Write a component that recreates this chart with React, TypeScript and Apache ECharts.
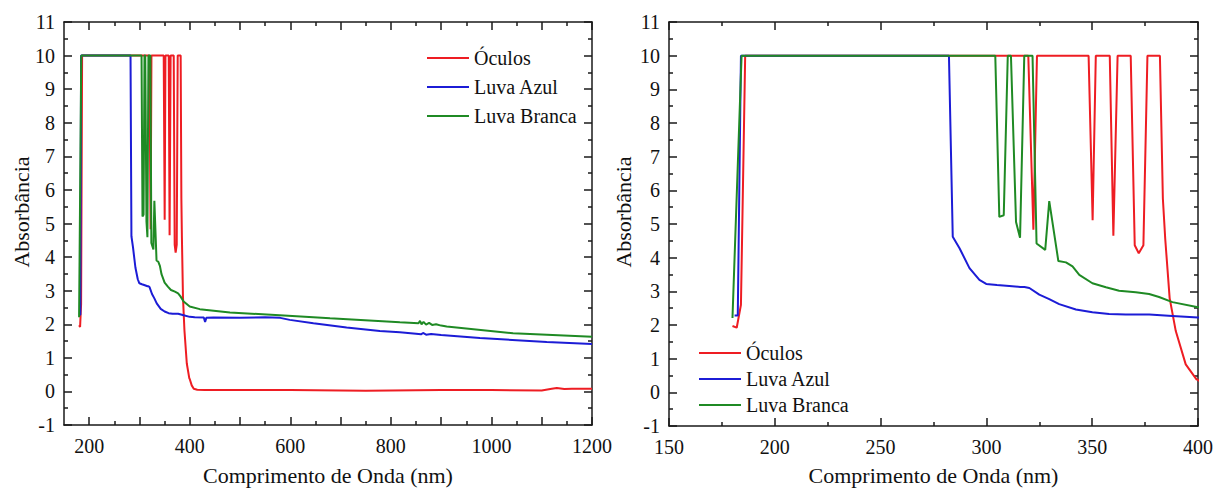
import React, { useEffect, useRef } from "react";
import * as echarts from "echarts";

// ---- Data (wavelength in nm, absorbance) ----
const oculosNm = [180, 182, 184, 186, 319.8, 322.2, 323.9, 348.3, 350.2, 351.7, 358.3, 360, 362, 368.2, 370.1, 372, 374.2, 376.1, 382, 383.4, 384.5, 386.6, 389.5, 394.2, 399.2, 400, 404, 408, 415, 430, 500, 600, 700, 750, 800, 900, 1000, 1100, 1120, 1130, 1145, 1160, 1200];
const oculosAbs = [1.97, 1.92, 2.6, 10, 10, 4.83, 10, 10, 5.11, 10, 10, 4.65, 10, 10, 4.37, 4.13, 4.37, 10, 10, 5.75, 4.57, 2.8, 1.82, 0.83, 0.39, 0.37, 0.18, 0.08, 0.05, 0.04, 0.04, 0.04, 0.03, 0.02, 0.03, 0.04, 0.04, 0.03, 0.08, 0.1, 0.07, 0.08, 0.08];

const azulNm = [181, 182.5, 184, 282.3, 284.1, 287.3, 292, 296.7, 299.9, 305, 310.8, 316, 318, 320.3, 325, 329.7, 334.4, 342.3, 350.1, 358, 365.9, 377, 387.9, 400, 410, 428, 430.6, 433, 447, 500, 550, 580, 599, 646, 712, 778, 818, 850, 860, 864, 870, 880, 900, 977, 1110, 1200];
const azulAbs = [2.28, 2.28, 10, 10, 4.62, 4.28, 3.69, 3.34, 3.22, 3.19, 3.16, 3.13, 3.13, 3.1, 2.9, 2.77, 2.62, 2.46, 2.38, 2.33, 2.31, 2.31, 2.27, 2.22, 2.21, 2.2, 2.07, 2.19, 2.2, 2.19, 2.21, 2.19, 2.13, 2.03, 1.9, 1.8, 1.76, 1.72, 1.7, 1.74, 1.69, 1.71, 1.68, 1.59, 1.47, 1.41];

const brancaNm = [180, 184.3, 304.2, 306.1, 308.2, 310.1, 311.6, 314, 315.9, 317.9, 321.8, 323.7, 327.8, 329.7, 334, 337.6, 340.7, 343.9, 350.1, 356.5, 362.7, 370.6, 376.9, 381.6, 387.9, 400, 420, 480, 579, 679, 818, 855, 858, 861, 865, 870, 876, 882, 890, 900, 911, 1043, 1200];
const brancaAbs = [2.21, 10, 10, 5.21, 5.26, 10, 10, 5.06, 4.59, 10, 10, 4.42, 4.23, 5.68, 3.9, 3.86, 3.74, 3.49, 3.24, 3.12, 3.02, 2.97, 2.92, 2.83, 2.68, 2.53, 2.45, 2.35, 2.27, 2.18, 2.06, 2.03, 2.1, 2.0, 2.07, 1.99, 2.04, 1.98, 2.0, 1.96, 1.93, 1.73, 1.63];

const seriesNames = ["Óculos", "Luva Azul", "Luva Branca"];
const seriesColors = ["#ee1d23", "#1c1cd6", "#1f8a24"];

const leftMajorTicks = [200, 300, 400, 500, 600, 700, 800, 900, 1000, 1100, 1200];
const leftMinorTicks = [250, 350, 450, 550, 650, 750, 850, 950, 1050, 1150];
const leftTickLabels = [200, 400, 600, 800, 1000, 1200];

const xTitle = "Comprimento de Onda (nm)";
const yTitle = "Absorbância";

const FONT = "Liberation Serif";
const AX = "#1a1a1a";

function pairs(xs: number[], ys: number[]) {
  return xs.map((x, i) => [x, ys[i]]);
}

export default function App() {
  const ref = useRef<HTMLDivElement>(null);
  useEffect(() => {
    if (!ref.current) return;
    const chart = echarts.init(ref.current, undefined, { renderer: "svg" });
    const lineStyle = { color: AX, width: 1.5 };
    const fmt = (v: number) => String(v);
    const labelStyle = { fontFamily: FONT, fontSize: 20, color: "#111", formatter: fmt };

    const baseX = (grid: number, pos: string, extra: any) => ({
      gridIndex: grid,
      type: "value",
      position: pos,
      axisLine: { show: true, onZero: false, lineStyle },
      splitLine: { show: false },
      ...extra,
    });

    const xAxes = [
      baseX(0, "bottom", {
        min: 150, max: 1200,
        axisTick: { show: true, inside: true, length: 8, customValues: leftMajorTicks, lineStyle },
        axisLabel: { show: true, customValues: leftTickLabels, margin: 11, ...labelStyle },
        name: xTitle, nameLocation: "middle", nameGap: 39,
        nameTextStyle: { fontFamily: FONT, fontSize: 22, color: "#111" },
      }),
      baseX(0, "bottom", {
        min: 150, max: 1200,
        axisLine: { show: false, onZero: false },
        axisTick: { show: true, inside: true, length: 4, customValues: leftMinorTicks, lineStyle },
        axisLabel: { show: false },
      }),
      baseX(0, "top", {
        min: 150, max: 1200,
        axisTick: { show: true, inside: true, length: 8, customValues: leftMajorTicks, lineStyle },
        axisLabel: { show: false },
      }),
      baseX(0, "top", {
        min: 150, max: 1200,
        axisLine: { show: false, onZero: false },
        axisTick: { show: true, inside: true, length: 4, customValues: leftMinorTicks, lineStyle },
        axisLabel: { show: false },
      }),
      baseX(1, "bottom", {
        min: 150, max: 400, interval: 50,
        axisTick: { show: true, inside: true, length: 8, lineStyle },
        minorTick: { show: true, splitNumber: 2, length: 4, lineStyle },
        axisLabel: { show: true, margin: 11, ...labelStyle },
        name: xTitle, nameLocation: "middle", nameGap: 38,
        nameTextStyle: { fontFamily: FONT, fontSize: 22, color: "#111" },
      }),
      baseX(1, "top", {
        min: 150, max: 400, interval: 50,
        axisTick: { show: true, inside: true, length: 8, lineStyle },
        minorTick: { show: true, splitNumber: 2, length: 4, lineStyle },
        axisLabel: { show: false },
      }),
    ];

    const yAx = (grid: number, pos: string, labels: boolean) => ({
      gridIndex: grid,
      type: "value",
      position: pos,
      min: -1, max: 11, interval: 1,
      axisLine: { show: true, onZero: false, lineStyle },
      axisTick: { show: true, inside: true, length: 8, lineStyle },
      minorTick: { show: true, splitNumber: 2, length: 4, lineStyle },
      axisLabel: { show: labels, margin: 9, ...labelStyle },
      splitLine: { show: false },
    });

    const yAxes = [yAx(0, "left", true), yAx(0, "right", false), yAx(1, "left", true), yAx(1, "right", false)];

    const datasets = [pairs(oculosNm, oculosAbs), pairs(azulNm, azulAbs), pairs(brancaNm, brancaAbs)];
    const series: any[] = [];
    [0, 1].forEach((g) => {
      datasets.forEach((d, i) => {
        series.push({
          name: seriesNames[i],
          type: "line",
          xAxisIndex: g === 0 ? 0 : 4,
          yAxisIndex: g === 0 ? 0 : 2,
          data: d,
          showSymbol: false,
          symbol: "none",
          clip: true,
          lineStyle: { color: seriesColors[i], width: 2 },
          itemStyle: { color: seriesColors[i] },
        });
      });
    });

    const legendBase = {
      orient: "vertical",
      icon: "rect",
      itemWidth: 42,
      itemHeight: 2,
      textStyle: { fontFamily: FONT, fontSize: 20, color: "#111" },
      data: seriesNames,
      selectedMode: false,
    };

    chart.setOption({
      animation: false,
      backgroundColor: "#ffffff",
      textStyle: { fontFamily: FONT },
      grid: [
        { left: 64, top: 22, width: 528, height: 405 },
        { left: 669, top: 22, width: 530, height: 407 },
      ],
      xAxis: xAxes,
      yAxis: yAxes,
      legend: [
        { ...legendBase, left: 422, top: 43, itemGap: 9 },
        { ...legendBase, left: 694, top: 338, itemGap: 6 },
      ],
      graphic: [
        {
          type: "text", x: 21, y: 212, rotation: Math.PI / 2,
          style: { text: yTitle, fontFamily: FONT, fontSize: 22, fill: "#111", align: "center", verticalAlign: "middle" },
        },
        {
          type: "text", x: 623, y: 212, rotation: Math.PI / 2,
          style: { text: yTitle, fontFamily: FONT, fontSize: 22, fill: "#111", align: "center", verticalAlign: "middle" },
        },
      ],
      series,
    });
    return () => chart.dispose();
  }, []);
  return <div ref={ref} style={{ position: "absolute", left: 0, top: 0, width: 1216, height: 491 }} />;
}
